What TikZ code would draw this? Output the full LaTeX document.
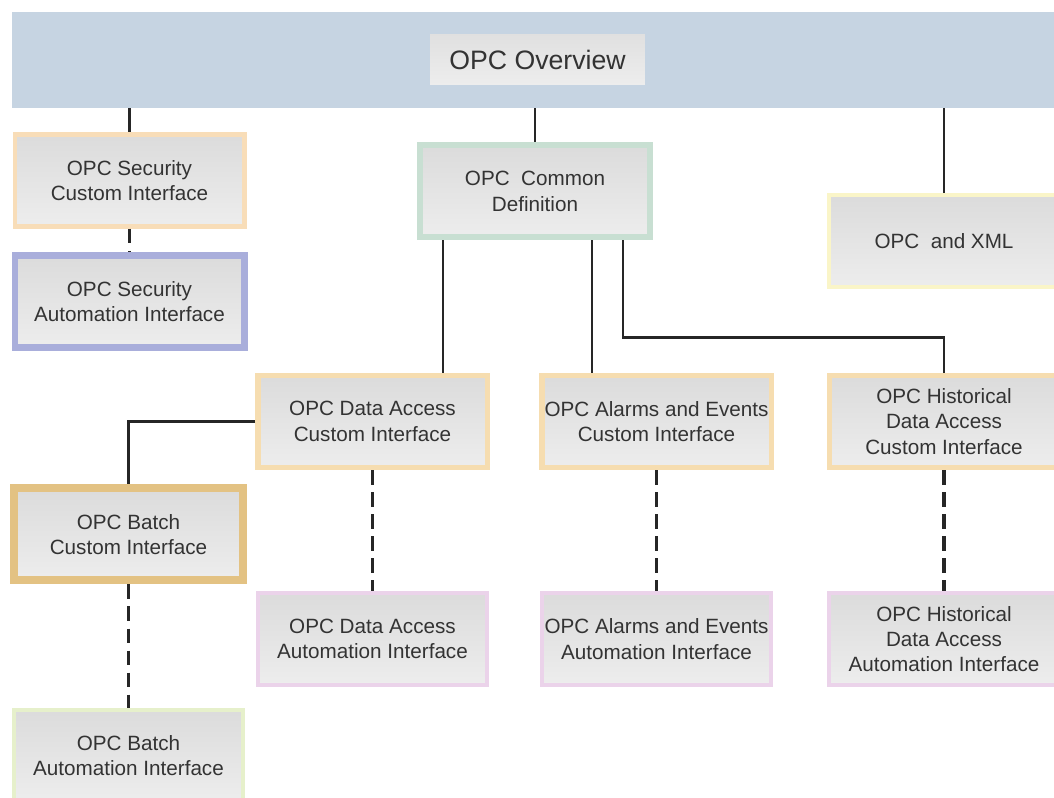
\documentclass[tikz,border=0pt]{standalone}
\usepackage{fontspec}
\setmainfont{Liberation Sans}
\usetikzlibrary{positioning}
\definecolor{bannerblue}{HTML}{C6D4E2}
\definecolor{opctext}{HTML}{333333}
\definecolor{secorange}{HTML}{F8DDB8}
\definecolor{seclilac}{HTML}{A9AEDB}
\definecolor{commongreen}{HTML}{C8DFD2}
\definecolor{xmlyellow}{HTML}{FAF5C8}
\definecolor{custombeige}{HTML}{F6DDB0}
\definecolor{batchtan}{HTML}{E3C283}
\definecolor{autopink}{HTML}{EBD3EA}
\definecolor{batchgreen}{HTML}{E6F0CB}

\begin{document}
\begin{tikzpicture}[x=0.75pt,y=-0.75pt,
  opcbox/.style={rectangle,draw=#1,line width=4pt,top color=gray!28,bottom color=gray!14,
    minimum width=172pt,minimum height=69pt,inner xsep=1pt,align=center,text=opctext,
    font=\fontsize{15.5}{19}\selectfont},
  solidlink/.style={line width=1.6pt,black!85},
  optlink/.style={line width=2.6pt,black!85,dash pattern=on 11pt off 5.5pt}]
\useasboundingbox (0,0) rectangle (1054,798);
\node [rectangle,fill=bannerblue,minimum width=793.5pt,minimum height=72pt,inner sep=0pt] (top) at (541,60) {};
\node [rectangle,top color=gray!24,bottom color=gray!14,minimum width=161pt,minimum height=37.5pt,text=opctext,
  font=\fontsize{20}{24}\selectfont] (overview) at (537.5,60) {OPC Overview};

\node [opcbox=secorange,line width=3.5pt] (secc) at (129.5,180.5) {OPC Security\\Custom Interface};
\node [opcbox=seclilac,line width=5pt] (seca) at (129.5,301.5) {OPC Security\\Automation Interface};
\node [opcbox=commongreen,line width=4.5pt] (common) at (535,191.5) {OPC\ \ Common\\Definition};
\node [opcbox=xmlyellow,line width=3pt] (xml) at (944,241.5) {OPC\ \ and XML};

\node [opcbox=custombeige] (dac) at (372.5,421.5) {OPC Data Access\\Custom Interface};
\node [opcbox=custombeige] (aec) at (656.5,421.5) {OPC Alarms and Events\\Custom Interface};
\node [opcbox=custombeige] (hdc) at (944,421.5) {OPC Historical\\Data Access\\Custom Interface};
\node [opcbox=batchtan,line width=6pt] (batc) at (128.5,534.5) {OPC Batch\\Custom Interface};

\node [opcbox=autopink,line width=3pt] (daa) at (372.5,639) {OPC Data Access\\Automation Interface};
\node [opcbox=autopink,line width=3pt] (aea) at (656.5,639) {OPC Alarms and Events\\Automation Interface};
\node [opcbox=autopink,line width=3pt] (hda) at (944,639) {OPC Historical\\Data Access\\Automation Interface};
\node [opcbox=batchgreen,line width=3pt] (bata) at (128.5,755.5) {OPC Batch\\Automation Interface};

\draw [solidlink] (top.south -| secc.north) -- (secc.north);
\draw [solidlink] (top.south -| common.north) -- (common.north);
\draw [solidlink] (top.south -| xml.north) -- (xml.north);
\draw [solidlink] ([xshift=-69pt]common.south) -- ([xshift=-69pt]common.south |- dac.north);
\draw [solidlink] ([xshift=42.75pt]common.south) -- ([xshift=42.75pt]common.south |- aec.north);
\draw [solidlink] ([xshift=66pt]common.south) -- ++(0,97) -| (hdc.north);
\draw [solidlink] (dac.west) -| (batc.north);

\draw [optlink] (secc.south) -- (seca.north);
\draw [optlink] (dac.south) -- (daa.north);
\draw [optlink] (aec.south) -- (aea.north);
\draw [optlink] (hdc.south) -- (hda.north);
\draw [optlink] (batc.south) -- (bata.north);
\end{tikzpicture}
\end{document}
